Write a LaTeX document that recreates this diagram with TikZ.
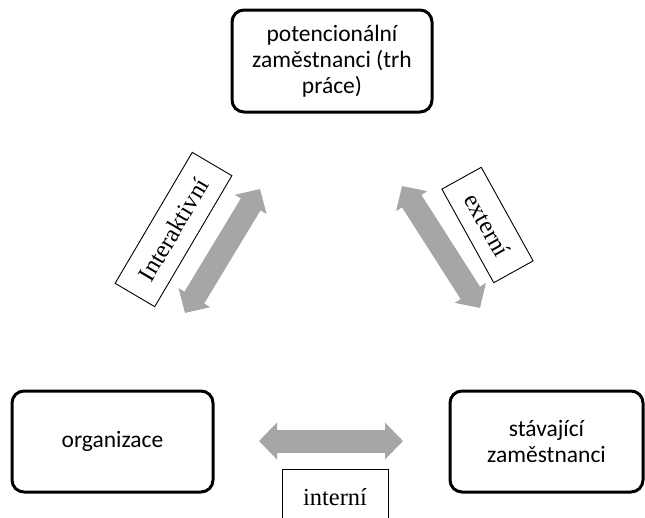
\documentclass[tikz,border=0pt]{standalone}
\usepackage{fontspec}
\usetikzlibrary{arrows.meta}
\newfontfamily\boxfont{Carlito}
\newfontfamily\lblfont{Liberation Serif}
\definecolor{arrowgray}{HTML}{A6A6A6}
\tikzset{
  mainbox/.style={draw=black, line width=3pt, rounded corners=12pt, align=center, inner sep=0pt,
    font=\boxfont\fontsize{23.5}{26}\selectfont},
  lblbox/.style={draw=black, line width=0.9pt, inner sep=0pt,
    font=\lblfont\fontsize{24.5}{28}\selectfont},
  blockarrow/.style={draw=arrowgray, line width=23pt,
    {Triangle[width=36pt,length=18pt]}-{Triangle[width=36pt,length=18pt]}}
}
\begin{document}
\begin{tikzpicture}[x=1pt,y=-1pt]
  \clip (0,0) rectangle (645,517);
  % main boxes
  \node[mainbox, minimum width=200pt, minimum height=102pt] (trh) at (332,61)
    {potencionální\\zaměstnanci (trh\\práce)};
  \node[mainbox, minimum width=201pt, minimum height=101pt] (org) at (112.5,441.5) {organizace};
  \node[mainbox, minimum width=193pt, minimum height=101pt] (stav) at (546.5,441.5)
    {stávající\\zaměstnanci};
  % arrow end points
  \coordinate (iA) at (260,189);
  \coordinate (iB) at (185,313);
  \coordinate (eA) at (402,186);
  \coordinate (eB) at (480,308);
  \coordinate (nA) at (259,441);
  \coordinate (nB) at (403,441);
  \draw[blockarrow] (iA) -- (iB);
  \draw[blockarrow] (eA) -- (eB);
  \draw[blockarrow] (nA) -- (nB);
  % label boxes
  \node[lblbox, minimum width=152pt, minimum height=46pt, rotate=59.5] (linter) at (173.5,229.5) {Interaktivní};
  \node[lblbox, minimum width=107pt, minimum height=45pt, rotate=-61] (lext) at (487.5,225) {externí};
  \node[lblbox, minimum width=106pt, minimum height=56pt] (lint) at (335,497) {interní};
\end{tikzpicture}
\end{document}
